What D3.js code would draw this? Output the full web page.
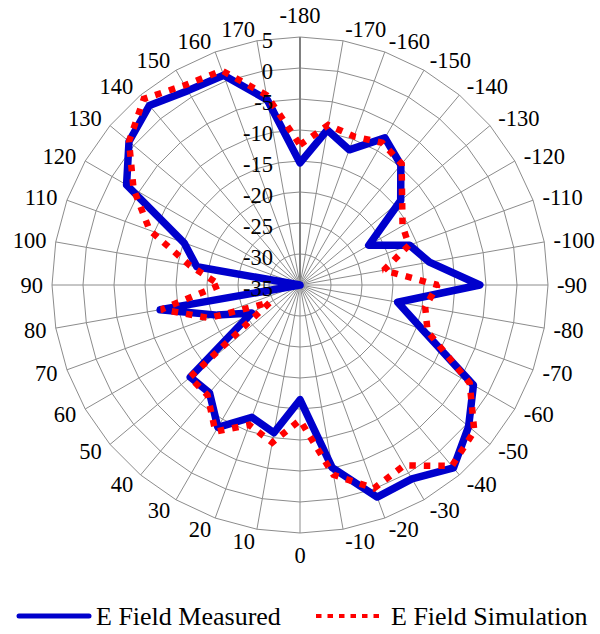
<!DOCTYPE html>
<html>
<head>
<meta charset="utf-8">
<script src="https://cdn.jsdelivr.net/npm/d3@7"></script>
</head>
<body style="margin:0">
<svg width="600" height="634"></svg>
<script>
// categories clockwise from the top
const angles = d3.range(-180, 180, 10);
const measured = [
  -15.3, -9.6, -11.8, -7.6, -9.7, -13.8, -22.2, -16.2, -13.8, -6,
  -19, -14, -2.7, 0.5, 3.5, 1.1, 1.4, -5.1, -16.5, -10.8,
  -12.3, -8.5, -12.3, -11.9, -26, -20.8, -12.1, -35, -18.1, -15.1,
  -2.7, 1.0, 2.8, 1.2, 1.0, -4.7
];
const simulation = [
  -12.4, -8.8, -9.5, -8.5, -9.5, -13.5, -15.9, -16.3, -21.3, -12.8,
  -14.5, -13.1, -3.4, 1.7, 3.1, -1.4, -0.1, -3.9, -13.2, -9.2,
  -11, -7.7, -11.8, -11.8, -29.4, -19.4, -12.3, -22.1, -17, -9.2,
  -4, 1.0, 4.2, 2.2, 1.8, -3.9
];
const radialTicks = [5, 0, -5, -10, -15, -20, -25, -30, -35];
const seriesNames = ['E Field Measured', 'E Field Simulation'];

const cx = 300, cy = 285, R = 248;
const svg = d3.select('svg');
const fontStack = '"Liberation Serif", "Times New Roman", Tinos, serif';
const tickSize = 22.5;

let r = d3.scaleLinear().domain([-35, 5]).range([0, R]);
let a = d3.scaleLinear().domain([-180, 180]).range([0, 2 * Math.PI]);

function label(sel, size) {
  return sel.style('font-family', fontStack).style('font-size', size + 'px').style('fill', '#000');
}

const g = svg.append('g').attr('transform', `translate(${cx},${cy})`);

// polygon rings
radialTicks.filter((t) => t > -35).forEach((t) => {
  let ring = d3.lineRadial()
    .angle((d) => a(d))
    .radius(r(t))
    .curve(d3.curveLinearClosed);
  g.append('path')
    .attr('d', ring(angles))
    .attr('fill', 'none')
    .attr('stroke', '#8c8c8c')
    .attr('stroke-width', 1);
});

// spokes
angles.forEach((ang) => {
  g.append('line')
    .attr('x1', 0).attr('y1', 0)
    .attr('x2', R * Math.sin(a(ang)))
    .attr('y2', -R * Math.cos(a(ang)))
    .attr('stroke', ang === -180 ? '#808080' : '#8c8c8c')
    .attr('stroke-width', ang === -180 ? 2 : 1);
});

// series
let seriesLine = d3.lineRadial()
  .angle((d, i) => a(angles[i]))
  .radius((d) => r(d))
  .curve(d3.curveLinearClosed);

g.append('path')
  .attr('d', seriesLine(measured))
  .attr('fill', 'none')
  .attr('stroke', '#0000cc')
  .attr('stroke-width', 7.5)
  .attr('stroke-linejoin', 'round');

g.append('path')
  .attr('d', seriesLine(simulation))
  .attr('fill', 'none')
  .attr('stroke', '#ff0000')
  .attr('stroke-width', 6.5)
  .attr('stroke-linejoin', 'miter')
  .attr('stroke-miterlimit', 1.5)
  .attr('stroke-dasharray', '6.5 8');

// value labels along the top spoke
radialTicks.forEach((t) => {
  label(g.append('text'), tickSize)
    .attr('x', -27)
    .attr('y', -r(t) + 3)
    .attr('dy', '0.35em')
    .attr('text-anchor', 'end')
    .text(t);
});

// category labels: start/end anchored at the spoke end, centred at top and bottom
angles.forEach((ang) => {
  let th = a(ang);
  let s = Math.sin(th), c = Math.cos(th);
  let rr = R + 9 + 3 * Math.abs(c);
  let anchor = Math.abs(s) < 0.01 ? 'middle' : (s > 0 ? 'start' : 'end');
  let dy = Math.abs(s) < 0.01 ? (c > 0 ? '-0.1em' : '0.8em') : '0.35em';
  label(g.append('text'), tickSize)
    .attr('x', rr * s)
    .attr('y', -rr * c)
    .attr('dy', dy)
    .attr('text-anchor', anchor)
    .text(ang);
});

// legend
const legendKeys = [
  { x1: 19, x2: 89, color: '#0000cc', width: 5, dash: null, tx: 96 },
  { x1: 316, x2: 384, color: '#ff0000', width: 4, dash: '5.5 6', tx: 391 }
];
const legend = svg.append('g').attr('transform', 'translate(0,616)');
legendKeys.forEach((k, i) => {
  legend.append('line')
    .attr('x1', k.x1).attr('x2', k.x2).attr('y1', 0).attr('y2', 0)
    .attr('stroke', k.color).attr('stroke-width', k.width)
    .attr('stroke-linecap', k.dash ? 'butt' : 'round')
    .attr('stroke-dasharray', k.dash);
  label(legend.append('text'), 26).attr('x', k.tx).attr('y', 9).text(seriesNames[i]);
});
</script>
</body>
</html>
